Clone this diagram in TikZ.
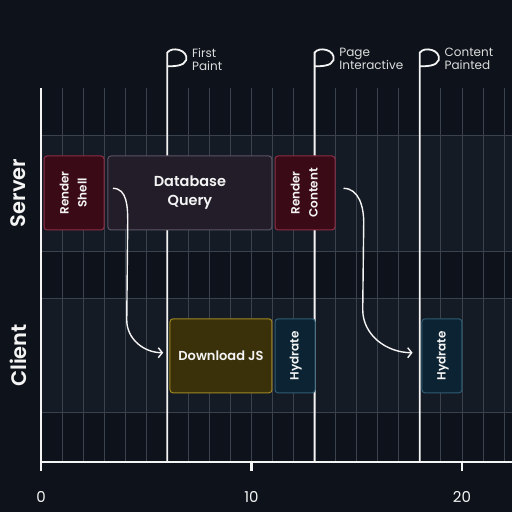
\documentclass[tikz,border=0pt]{standalone}
\usepackage{fontspec}
\setmainfont{Poppins}[BoldFont={Poppins SemiBold}]
\usetikzlibrary{arrows.meta}

\definecolor{fondo}{HTML}{0E131B}
\definecolor{carril}{HTML}{151B24}
\definecolor{rejilla}{HTML}{3A424E}
\definecolor{tinta}{HTML}{F4F4F4}
\definecolor{granate}{HTML}{3B0A17}
\definecolor{granatebor}{HTML}{8C2E46}
\definecolor{consultafill}{HTML}{221D29}
\definecolor{consultabor}{HTML}{5B5566}
\definecolor{ocre}{HTML}{3A300A}
\definecolor{ocrebor}{HTML}{9E8722}
\definecolor{azul}{HTML}{0C2333}
\definecolor{azulbor}{HTML}{2E5C74}

\tikzset{
  caja/.style={draw, line width=1pt, rounded corners=3pt, minimum height=74pt,
    inner sep=0pt, text=tinta, align=center, font=\bfseries\fontsize{12}{18}\selectfont},
  servidor/.style={caja, fill=granate, draw=granatebor},
  consulta/.style={caja, fill=consultafill, draw=consultabor, font=\bfseries\fontsize{14.5}{19}\selectfont},
  descarga/.style={caja, fill=ocre, draw=ocrebor, font=\bfseries\fontsize{13}{18}\selectfont},
  hidrata/.style={caja, fill=azul, draw=azulbor},
  flujo/.style={draw=tinta, line width=1.4pt, -{Straight Barb[length=4pt,width=10pt]}},
  bandera/.style={draw=tinta, line width=1.8pt},
  eje/.style={draw=tinta, line width=2.2pt},
  hito/.style={text=tinta!90!black, align=left, inner sep=0pt, font=\fontsize{12}{13.5}\selectfont},
  marca/.style={text=tinta, font=\fontsize{15}{18}\selectfont},
  carrilrot/.style={text=tinta, rotate=90, font=\bfseries\fontsize{21}{24}\selectfont}
}

% Texto vertical de varias lineas dentro de una caja
\newcommand{\vtexto}[1]{\rotatebox{90}{\begin{tabular}{@{}c@{}}#1\end{tabular}}}

\begin{document}
\begin{tikzpicture}[x=21.05pt, y=21.05pt]
    % Fondo y marco de la figura.
    \useasboundingbox (-1.95,-2.38) rectangle (22.37,21.95);
    \fill[fondo] (-1.95,-2.38) rectangle (22.37,21.95);

    % Carriles de servidor y cliente.
    \fill[carril] (0,10.02) rectangle (22.37,15.53);
    \fill[carril] (0,2.33) rectangle (22.37,7.79);

    % Rejilla de tiempo.
    \foreach \x in {1,...,22}
        \draw[rejilla, line width=0.8pt] (\x,0) -- (\x,17.77);
    \foreach \y in {2.33,7.79,10.02,15.53}
        \draw[rejilla, line width=0.8pt] (0,\y) -- (22.37,\y);

    % Banderas con sus hitos.
    \foreach \x/\txt in {6/{First\\Paint}, 13/{Page\\Interactive}, 18/{Content\\Painted}} {
        \draw[bandera] (\x,0) -- (\x,19.45) .. controls (\x+0.2,19.75) and (\x+1.0,19.6) .. (\x+0.9,19.1)
            .. controls (\x+0.8,18.8) and (\x+0.3,18.8) .. (\x,18.8);
        \node[hito, anchor=north west] (hito\x) at (\x+1.17,19.68) {\txt};
    }

    % Tareas del servidor.
    \node[servidor, minimum width=60pt] (shell) at (1.57,12.78) {\vtexto{Render\\Shell}};
    \node[consulta, minimum width=164pt] (db) at (7.075,12.78) {Database\\Query};
    \node[servidor, minimum width=60pt] (content) at (12.545,12.78) {\vtexto{Render\\Content}};

    % Tareas del cliente.
    \node[descarga, minimum width=102pt] (dljs) at (8.55,5.04) {Download JS};
    \node[hidrata, minimum width=40pt] (hyd1) at (12.07,5.04) {\vtexto{Hydrate}};
    \node[hidrata, minimum width=40pt] (hyd2) at (19.05,5.04) {\vtexto{Hydrate}};

    % Flechas del servidor al cliente.
    \draw[flujo] ([shift={(0.4,0.22)}]shell.east) to[out=0,in=90] ([shift={(1.1,-1.4)}]shell.east)
        -- ([shift={(-2.03,1.7)}]dljs.west) to[out=-90,in=180] ([shift={(-0.3,0.15)}]dljs.west);
    \draw[flujo] ([shift={(0.38,0.22)}]content.east) to[out=0,in=90] ([shift={(1.34,-1.4)}]content.east)
        -- ([shift={(-2.79,2.2)}]hyd2.west) to[out=-90,in=180] ([shift={(-0.42,0.15)}]hyd2.west);

    % Ejes y marcas de tiempo.
    \draw[eje] (0,17.77) -- (0,0) -- (22.37,0);
    \foreach \t in {0,10,20} {
        \draw[eje] (\t,0) -- (\t,-0.45);
        \node[marca] (t\t) at (\t,-1.66) {\t};
    }

    % Nombres de los carriles.
    \node[carrilrot] (srv) at (-1.09,12.78) {Server};
    \node[carrilrot] (cli) at (-1.09,5.06) {Client};
\end{tikzpicture}
\end{document}
